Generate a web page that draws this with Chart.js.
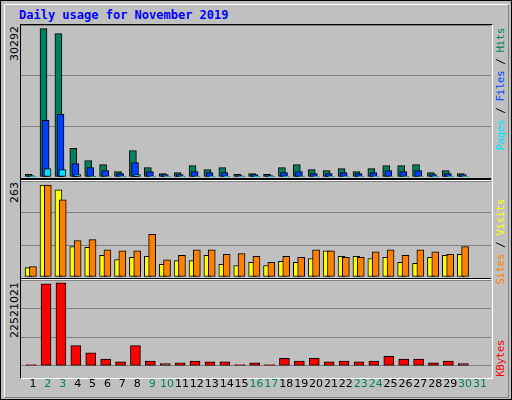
<!DOCTYPE html>
<html><head><meta charset="utf-8">
<script src="https://cdn.jsdelivr.net/npm/chart.js@4"></script>
<style>
body{margin:0;background:#fff}
#frame{position:absolute;left:0;top:0;width:510px;height:398px;background:#c0c0c0;border:1px solid #000}
#inner{position:absolute;left:3px;top:3px;width:503px;height:392px;border-top:1px solid #fff;border-left:1px solid #fff;border-right:1px solid #808080;border-bottom:1px solid #808080}
.vt{position:absolute;writing-mode:vertical-rl;transform:rotate(180deg);white-space:nowrap}
.mono{font:11px "DejaVu Sans Mono",monospace;letter-spacing:-0.5px}
#title{position:absolute;left:19px;top:8px;font:bold 12px "DejaVu Sans Mono",monospace;color:#0000ff}
canvas{position:absolute}
</style></head><body>
<div id="frame"><div id="inner"></div></div>
<div id="title">Daily usage for November 2019</div>
<div style="position:absolute;left:20px;top:24px;width:471px;height:353px;border:1px solid;border-color:#000 #fff #fff #000"></div>
<div style="position:absolute;left:21px;top:178px;width:470px;height:2px;background:#000;border-bottom:1px solid #fff"></div>
<div style="position:absolute;left:21px;top:278px;width:470px;height:1px;background:#000;border-bottom:1px solid #fff"></div>
<div class="vt" style="left:8px;top:26px;font:11px 'DejaVu Sans'">30292</div>
<div class="vt" style="left:8px;top:182px;font:11px 'DejaVu Sans'">263</div>
<div class="vt" style="left:8px;top:282px;font:11px 'DejaVu Sans'">22521021</div>
<div class="vt mono" style="left:494px;top:28px"><span style="color:#00e0ff">Pages</span><span style="color:#000"> / </span><span style="color:#0040ff">Files</span><span style="color:#000"> / </span><span style="color:#008060">Hits</span></div>
<div class="vt mono" style="left:494px;top:199px"><span style="color:#ff8000">Sites</span><span style="color:#000"> / </span><span style="color:#ffff00">Visits</span></div>
<div class="vt mono" style="left:494px;top:340px;color:#ff0000">KBytes</div>
<canvas id="c1" style="left:21px;top:25px"></canvas>
<canvas id="c2" style="left:21px;top:181px"></canvas>
<canvas id="c3" style="left:21px;top:280px"></canvas>
<script>
const days = [];
for (let d = 1; d <= 31; d++) days.push(d);
const weekendDays = [2,3,9,10,16,17,23,24,30,31];
const hits = [550,30292,29270,5830,3360,2540,1100,5410,1920,690,890,2330,1510,1920,550,690,550,1920,2540,1510,1300,1710,1100,1710,2330,2330,2540,890,1300,690,0];
const files = [270,11580,12810,2740,1920,1300,690,2950,1100,480,480,1100,890,890,270,480,270,890,1100,690,690,890,690,890,1300,1100,1300,480,690,480,0];
const pages = [60,1710,1510,480,120,100,60,480,80,40,50,90,70,80,30,40,30,80,90,60,50,70,50,70,100,90,100,40,50,40,0];
const visits = [27,263,249,87,85,62,50,56,59,36,47,47,62,36,33,42,33,45,42,53,75,59,59,53,56,42,39,56,62,65,0];
const sites = [30,263,221,104,107,78,75,75,122,49,62,78,78,65,67,59,42,59,56,78,75,56,56,72,78,62,78,72,65,87,0];
const kbytes = [330000,22193000,22521021,5487000,3521000,1802000,1065000,5487000,1310000,573000,819000,1310000,1065000,1065000,330000,819000,330000,2047000,1310000,2047000,1065000,1310000,1065000,1310000,2539000,1802000,1802000,819000,1310000,573000,0];

const xs = (arr, off) => arr.map((v, i) => ({x: days[i] + off, y: v}));
function ds(arr, off, color, order, w) {
  return {data: xs(arr, off), backgroundColor: color, borderColor: '#000', borderWidth: 1,
    barThickness: w, grouped: false, order: order, borderSkipped: false};
}
function opts(ymax, showX) {
  return {
    responsive: false, animation: false, events: [],
    layout: {padding: 0},
    plugins: {legend: {display: false}, tooltip: {enabled: false}},
    scales: {
      x: {type: 'linear', min: 0.2, max: 31.74, offset: false, display: showX, grid: {display: false}, border: {display: false},
        afterBuildTicks: s => { s.ticks = days.map(d => ({value: d})); },
        ticks: {autoSkip: false, maxRotation: 0, padding: 4,
          color: c => weekendDays.includes(c.tick.value) ? '#008060' : '#000',
          font: {family: 'DejaVu Sans', size: 11}}},
      y: {min: 0, max: ymax, afterFit: s => { s.width = 0; },
        afterBuildTicks: s => { s.ticks = [0, 1, 2, 3].map(k => ({value: ymax * k / 3})); },
        ticks: {display: false}, border: {display: false},
        grid: {color: '#808080', lineWidth: 1, drawTicks: false}}
    }
  };
}
function mk(id, w, h, datasets, ymax, showX) {
  const c = document.getElementById(id);
  c.width = w; c.height = h;
  new Chart(c, {type: 'bar', data: {datasets: datasets}, options: opts(ymax, showX)});
}
mk('c1', 470, 152, [ds(hits, -0.29, '#008060', 3, 7), ds(files, -0.15, '#0040ff', 2, 7), ds(pages, -0.02, '#00e0ff', 1, 7)], 31030, false);
mk('c2', 470, 96, [ds(visits, -0.29, '#ffff00', 2, 7), ds(sites, 0, '#ff8000', 1, 7)], 274.6, false);
mk('c3', 470, 115, [ds(kbytes, -0.12, '#ff0000', 1, 10)], 23258000, true);
</script>
</body></html>
